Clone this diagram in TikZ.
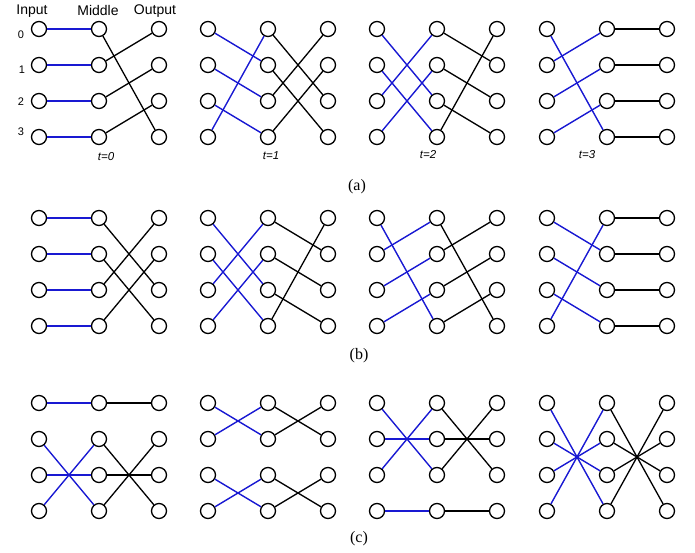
\documentclass[tikz,border=0pt]{standalone}
\usepackage{fontspec}
\setmainfont{Liberation Serif}
\setsansfont{Liberation Sans}
\definecolor{netblue}{RGB}{25,25,210}
\tikzset{
  dot/.style={circle,draw=black,line width=1.3pt,minimum size=15pt,inner sep=0pt},
  blueline/.style={draw=netblue,line width=1.4pt},
  blackline/.style={draw=black,line width=1.3pt},
  headlbl/.style={font=\sffamily\fontsize{14}{16}\selectfont,inner sep=0pt},
  numlbl/.style={font=\sffamily\fontsize{11}{13}\selectfont,inner sep=0pt},
  tlbl/.style={font=\sffamily\itshape\fontsize{11.5}{13}\selectfont,inner sep=0pt},
  caplbl/.style={font=\fontsize{16}{18}\selectfont,inner sep=0pt}
}
% #1 name, #2 x of input column, #3 y of top row, #4 blue targets, #5 black targets
\newcommand\netpanel[5]{%
  \foreach \r in {0,...,3}{%
    \node[dot] (#1I\r) at (#2, #3+\r*36) {};
    \node[dot] (#1M\r) at (#2+60, #3+\r*36) {};
    \node[dot] (#1O\r) at (#2+120, #3+\r*36) {};
  }%
  \foreach \t [count=\s from 0] in {#4} \draw[blueline] (#1I\s) -- (#1M\t);
  \foreach \t [count=\s from 0] in {#5} \draw[blackline] (#1M\s) -- (#1O\t);
}
\begin{document}
\begin{tikzpicture}[x=1pt,y=-1pt]
\useasboundingbox (0,0) rectangle (695,553);
% row (a)
\netpanel{aa}{39}{29}{0,1,2,3}{3,0,1,2}
\netpanel{ab}{208}{29}{1,2,3,0}{2,3,0,1}
\netpanel{ac}{377}{29}{2,3,0,1}{1,2,3,0}
\netpanel{ad}{547}{29}{3,0,1,2}{0,1,2,3}
% row (b)
\netpanel{ba}{39}{218}{0,1,2,3}{2,3,0,1}
\netpanel{bb}{208}{218}{2,3,0,1}{1,2,3,0}
\netpanel{bc}{377}{218}{3,0,1,2}{3,0,1,2}
\netpanel{bd}{547}{218}{1,2,3,0}{0,1,2,3}
% row (c)
\netpanel{ca}{39}{403}{0,3,2,1}{0,3,2,1}
\netpanel{cb}{208}{403}{1,0,3,2}{1,0,3,2}
\netpanel{cc}{377}{403}{2,1,0,3}{2,1,0,3}
\netpanel{cd}{547}{403}{3,2,1,0}{3,2,1,0}
% headers
\node[headlbl] (hin) at (32,11) {Input};
\node[headlbl] (hmid) at (98,11) {Middle};
\node[headlbl] (hout) at (155,11) {Output};
\node[numlbl] (n0) at (21,35) {0};
\node[numlbl] (n1) at (22,70) {1};
\node[numlbl] (n2) at (21,102) {2};
\node[numlbl] (n3) at (21,132) {3};
% time labels
\node[tlbl] (t0) at (106,157) {t=0};
\node[tlbl] (t1) at (271,156) {t=1};
\node[tlbl] (t2) at (428,155) {t=2};
\node[tlbl] (t3) at (587,155) {t=3};
% captions
\node[caplbl] (capa) at (357,187) {(a)};
\node[caplbl] (capb) at (359,356) {(b)};
\node[caplbl] (capc) at (359,539) {(c)};
\end{tikzpicture}
\end{document}
